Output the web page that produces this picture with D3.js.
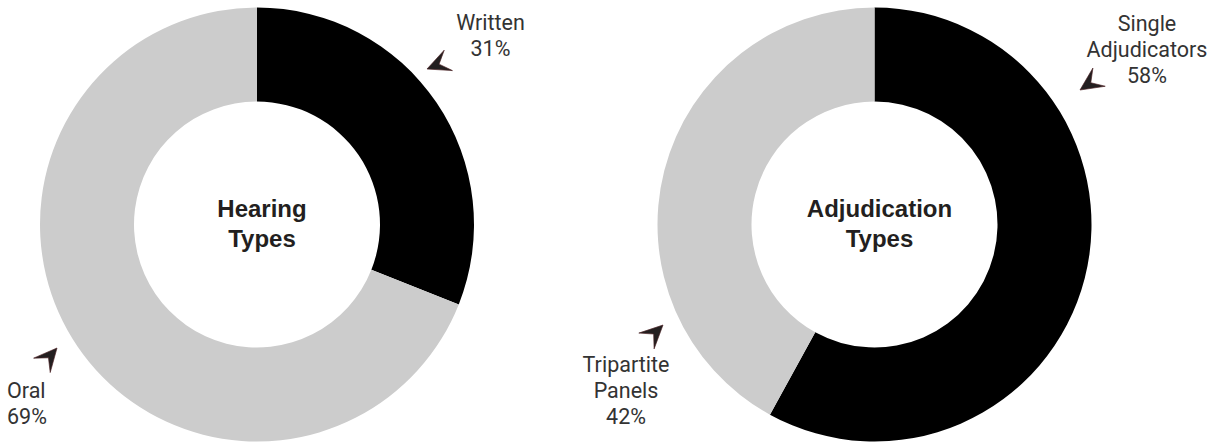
<!DOCTYPE html>
<html>
<head>
<meta charset="utf-8">
<script src="https://cdn.jsdelivr.net/npm/d3@7"></script>
<style>
  html, body { margin: 0; padding: 0; background: #fff; }
  svg { display: block; }
</style>
</head>
<body>
<svg id="chart" width="1218" height="445"></svg>
<script>
// ---- Data ----
const hearingCategories = ["Written", "Oral"];
const hearingValues = [31, 69];
const adjudicationCategories = ["Single Adjudicators", "Tripartite Panels"];
const adjudicationValues = [58, 42];
const chartTitles = [["Hearing", "Types"], ["Adjudication", "Types"]];
const sliceColors = ["#000000", "#cccccc"];

// ---- Layout (annotation placement, relative to each donut centre) ----
const layout = {
  outer: 217, inner: 123, cy: 224.5,
  centers: [257, 874.5],
  labels: [
    [ // Hearing
      { lines: ["Written", "31%"], dx: 233.5, dy: -194.5, anchor: "middle",
        tip: [170, -155.5], dir: 158 },
      { lines: ["Oral", "69%"], dx: -250, dy: 173.5, anchor: "start",
        tip: [-200, 123.5], dir: -49 }
    ],
    [ // Adjudication
      { lines: ["Tripartite", "Panels", "42%"], dx: -248.5, dy: 147.5, anchor: "middle",
        tip: [-211.5, 100.5], dir: -44 },
      { lines: ["Single", "Adjudicators", "58%"], dx: 272.5, dy: -194, anchor: "middle",
        tip: [205.5, -134.5], dir: 146 }
    ]
  ]
};

const svg = d3.select("#chart");
const pie = d3.pie().sort(null).value(d => d.value);
const arc = d3.arc().innerRadius(layout.inner).outerRadius(layout.outer);

const datasets = [
  hearingCategories.map((c, i) => ({ cat: c, value: hearingValues[i] })),
  adjudicationCategories.map((c, i) => ({ cat: c, value: adjudicationValues[i] }))
];
const color = d3.scaleOrdinal().domain([0, 1]).range(sliceColors);

// arrowhead shape (pointing +x, tip at origin)
const arrowPath = "M0,0 L-23,-11 L-13,0 L-23,11 Z";

datasets.forEach((data, k) => {
  const cx = layout.centers[k];
  const g = svg.append("g").attr("transform", `translate(${cx},${layout.cy})`);

  g.selectAll("path.slice")
    .data(pie(data))
    .join("path")
    .attr("class", "slice")
    .attr("d", arc)
    .attr("fill", (d, i) => color(i));

  // centre title
  const t = g.append("text")
    .attr("text-anchor", "middle")
    .attr("font-family", "'Liberation Sans', Arial, sans-serif")
    .attr("font-weight", "bold")
    .attr("font-size", 24)
    .attr("fill", "#231f20");
  chartTitles[k].forEach((line, j) => {
    t.append("tspan").attr("x", 5).attr("y", -7.5 + j * 30).text(line);
  });

  // annotations
  layout.labels[k].forEach(lab => {
    const txt = g.append("text")
      .attr("text-anchor", lab.anchor)
      .attr("font-family", "Roboto, 'Noto Sans', sans-serif")
      .attr("font-size", 21.5)
      .attr("fill", "#333333");
    lab.lines.forEach((line, j) => {
      txt.append("tspan").attr("x", lab.dx).attr("y", lab.dy + j * 26).text(line);
    });
    g.append("path")
      .attr("d", arrowPath)
      .attr("transform", `translate(${lab.tip[0]},${lab.tip[1]}) rotate(${lab.dir})`)
      .attr("fill", "#231f20")
      .attr("stroke", "#4a1f22")
      .attr("stroke-width", 0.6);
  });
});
</script>
</body>
</html>
